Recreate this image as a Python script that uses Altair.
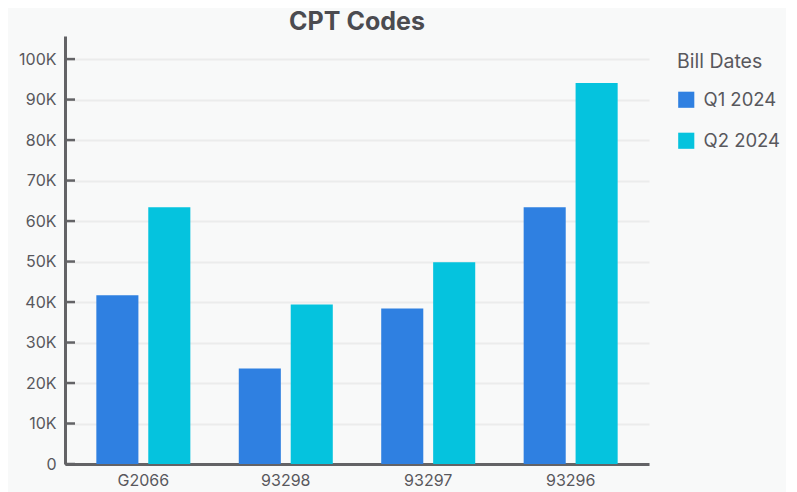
import altair as alt
import pandas as pd

codes = ["G2066", "93298", "93297", "93296"]
quarters = ["Q1 2024", "Q2 2024"]
q1_values = [41700, 23600, 38400, 63400]
q2_values = [63400, 39400, 49800, 94100]
tick_values = [0, 10000, 20000, 30000, 40000, 50000, 60000, 70000, 80000, 90000, 100000]
colors = ["#2F80E1", "#05C3DE"]

rows = []
for c, a, b in zip(codes, q1_values, q2_values):
    rows.append({"code": c, "quarter": quarters[0], "value": a})
    rows.append({"code": c, "quarter": quarters[1], "value": b})
df = pd.DataFrame(rows)
ticks_df = pd.DataFrame({"v": tick_values})

FONT = "Inter"
AX = "#636366"
TXT = "#58585d"
YMAX = 105700

yscale = alt.Scale(domain=[0, YMAX], nice=False)

bars = alt.Chart(df).mark_bar().encode(
    x=alt.X("code:N", sort=codes, title=None,
            scale=alt.Scale(paddingInner=0.34, paddingOuter=0.22),
            axis=alt.Axis(labelAngle=0, ticks=False, domainColor=AX, domainWidth=3,
                          labelFont=FONT, labelFontSize=16, labelColor=TXT,
                          labelPadding=8, grid=False)),
    xOffset=alt.XOffset("quarter:N", sort=quarters,
                        scale=alt.Scale(paddingInner=0.19, paddingOuter=0)),
    y=alt.Y("value:Q", scale=yscale, title=None,
            axis=alt.Axis(values=tick_values, ticks=False, domainColor=AX, domainWidth=3,
                          labelFont=FONT, labelFontSize=16, labelColor=TXT, labelPadding=9,
                          gridColor="#EBECEC", gridWidth=2,
                          labelExpr="datum.value == 0 ? '0' : (datum.value/1000) + 'K'")),
    color=alt.Color("quarter:N", sort=quarters,
                    scale=alt.Scale(domain=quarters, range=colors),
                    legend=alt.Legend(title="Bill Dates", symbolType="square", symbolSize=260,
                                      symbolStrokeWidth=0, titleFont=FONT, titleFontSize=19.5,
                                      titleFontWeight="normal", titleColor=TXT,
                                      labelFont=FONT, labelFontSize=18.5, labelColor=TXT,
                                      rowPadding=22, titlePadding=18, orient="none",
                                      legendX=612, legendY=17, labelOffset=8)),
)

ticks = alt.Chart(ticks_df).mark_rule(color=AX, strokeWidth=2.5).encode(
    y=alt.Y("v:Q", scale=yscale),
    x=alt.value(0),
    x2=alt.value(10),
)

chart = alt.layer(bars, ticks).properties(
    width=584, height=428,
    title=alt.TitleParams("CPT Codes", font=FONT, fontSize=25, fontWeight="bold",
                          color="#4b4b50", anchor="middle", offset=1),
    background="#F8F9F9",
    padding={"left": 10, "top": 2, "right": 5, "bottom": 5},
).configure_view(stroke=None)

chart.save("out.html", embed_options={"renderer": "svg", "actions": False})
